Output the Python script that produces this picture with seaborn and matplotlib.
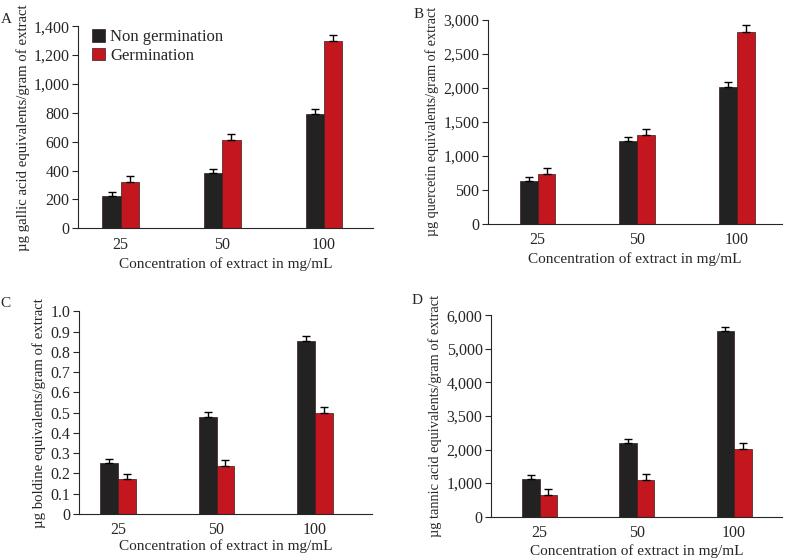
import numpy as np
import pandas as pd
import seaborn as sns
import matplotlib.pyplot as plt

# data
conc = ['25', '50', '100']
groups = ['Non germination', 'Germination']

gallic_non = [220, 380, 794]
gallic_germ = [320, 614, 1299]
gallic_non_err = [31, 30, 32]
gallic_germ_err = [42, 41, 41]

querc_non = [622, 1210, 2010]
querc_germ = [731, 1309, 2819]
querc_non_err = [59, 69, 68]
querc_germ_err = [88, 88, 97]

boldine_non = [0.252, 0.479, 0.855]
boldine_germ = [0.170, 0.236, 0.499]
boldine_non_err = [0.020, 0.022, 0.021]
boldine_germ_err = [0.029, 0.031, 0.030]

tannic_non = [1111, 2192, 5526]
tannic_germ = [635, 1101, 2004]
tannic_non_err = [129, 129, 119]
tannic_germ_err = [188, 169, 188]
tannic_ticklabels = ['0', '1,000', '2,000', '3,500', '4,000', '5,000', '6,000']

panels = [
    ('A', 'µg gallic acid equivalents/gram of extract', gallic_non, gallic_germ, gallic_non_err, gallic_germ_err),
    ('B', 'µg quercetin equivalents/gram of extract', querc_non, querc_germ, querc_non_err, querc_germ_err),
    ('C', 'µg boldine equivalents/gram of extract', boldine_non, boldine_germ, boldine_non_err, boldine_germ_err),
    ('D', 'µg tannic acid equivalents/gram of extract', tannic_non, tannic_germ, tannic_non_err, tannic_germ_err),
]

sns.set_style("ticks")
plt.rcParams['font.family'] = ['Liberation Serif', 'DejaVu Serif']
plt.rcParams['font.size'] = 11

colors = ['#222222', '#c3161f']

fig = plt.figure(figsize=(7.88, 5.58), dpi=100)
# axes rectangles (figure fractions) and x-limits for each panel
rects = [[0.099, 0.591, 0.374, 0.362],
         [0.619, 0.599, 0.374, 0.366],
         [0.100, 0.079, 0.372, 0.363],
         [0.623, 0.074, 0.369, 0.361]]
xlims = [(-0.42, 2.48), (-0.50, 2.46), (-0.40, 2.58), (-0.50, 2.49)]
ylims = [(0, 1400), (0, 3000), (0, 1.0), (0, 6000)]
yticks = [np.arange(0, 1401, 200), np.arange(0, 3001, 500), np.arange(0, 1.01, 0.1), np.arange(0, 6001, 1000)]
letter_pos = [(0.001, 0.977), (0.525, 0.985), (0.001, 0.468), (0.522, 0.474)]
ylab_size = [10.6, 10.2, 10.6, 10.4]
xlab_pad = [3, 3, 1, 2]

for i, (letter, ylab, non, germ, non_err, germ_err) in enumerate(panels):
    ax = fig.add_axes(rects[i])
    df = pd.DataFrame({'conc': conc * 2,
                       'value': non + germ,
                       'group': [groups[0]] * 3 + [groups[1]] * 3})
    sns.barplot(data=df, x='conc', y='value', hue='group', order=conc, hue_order=groups,
                palette=colors, width=0.36, errorbar=None, saturation=1,
                edgecolor='#3a1a1a', linewidth=0.5, ax=ax, legend=(i == 0))

    # one-sided error bars on top of each bar
    errs = non_err + germ_err
    bars = [p for p in ax.patches if p.get_height() > 0][:6]
    xs = [b.get_x() + b.get_width() / 2 for b in bars]
    hs = [b.get_height() for b in bars]
    ax.errorbar(xs, hs, yerr=[np.zeros(6), errs], fmt='none', ecolor='black',
                elinewidth=1, capsize=3, capthick=1)

    ax.set_xlim(xlims[i])
    ax.set_ylim(ylims[i])
    ax.set_yticks(yticks[i])
    if letter == 'A' or letter == 'B':
        ax.set_yticklabels([f'{int(v):,}' for v in yticks[i]])
    elif letter == 'C':
        ax.set_yticklabels(['0'] + [f'{v:.1f}' for v in yticks[i][1:]])
    else:
        ax.set_yticklabels(tannic_ticklabels)
    ax.set_xlabel('Concentration of extract in mg/mL', fontsize=11, labelpad=xlab_pad[i])
    ax.set_ylabel(ylab, fontsize=ylab_size[i], labelpad=3)
    ax.tick_params(axis='x', length=0, pad=6, labelsize=11.5)
    ax.tick_params(axis='y', length=4, width=0.8, pad=2, labelsize=11.5)
    for s in ['left', 'bottom']:
        ax.spines[s].set_linewidth(0.8)
    sns.despine(ax=ax)

    if i == 0:
        ax.legend(loc='upper left', bbox_to_anchor=(0.025, 1.02), frameon=False,
                  handlelength=0.8, handleheight=0.8, handletextpad=0.3,
                  labelspacing=0.15, borderaxespad=0, fontsize=12)

    fig.text(letter_pos[i][0], letter_pos[i][1], letter, fontsize=11, va='top', ha='left')

fig.savefig('out.png', dpi=100)
